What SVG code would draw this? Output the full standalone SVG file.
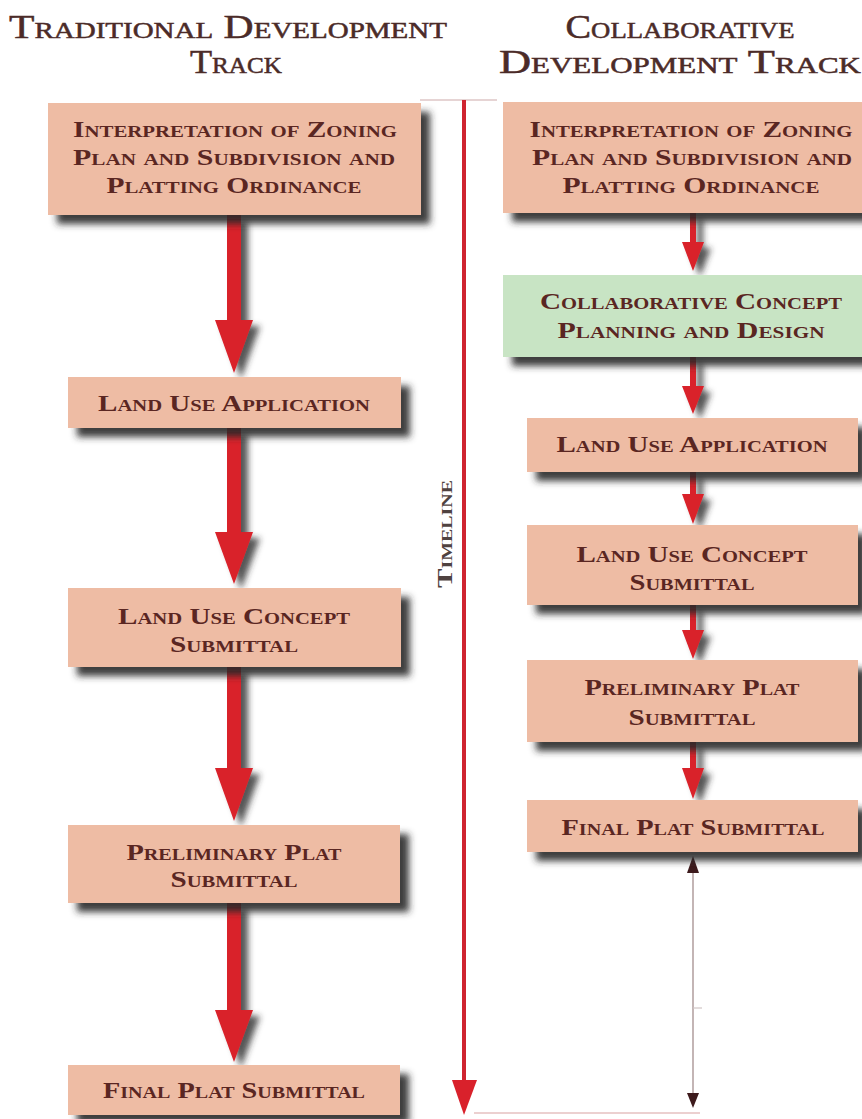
<svg xmlns="http://www.w3.org/2000/svg" width="862" height="1119" viewBox="0 0 862 1119">
<defs>
<filter id="sh" x="-20%" y="-20%" width="150%" height="160%">
<feDropShadow dx="9" dy="9" stdDeviation="3.5" flood-color="#262626" flood-opacity="0.9"/>
</filter>
<filter id="ash" x="-60%" y="-10%" width="250%" height="130%">
<feDropShadow dx="7" dy="6" stdDeviation="3" flood-color="#2b2b2b" flood-opacity="0.8"/>
</filter>
<style>
.title{font-family:"Liberation Serif",serif;font-size:33px;font-variant:small-caps;fill:#4b2b28;stroke:#4b2b28;stroke-width:0.5;text-anchor:middle}
.lbl{font-family:"Liberation Serif",serif;font-size:24px;font-weight:bold;font-variant:small-caps;fill:#5a2622;text-anchor:middle}
.box{fill:#eebca4}
.green{fill:#c8e4c4}
.arr{fill:#d9212b}
.tl{font-family:"Liberation Serif",serif;font-size:22px;font-weight:bold;font-variant:small-caps;fill:#4f4240;text-anchor:middle}
</style>
</defs>
<rect width="862" height="1119" fill="#ffffff"/>

<g id="titles">
<text class="title" x="228" y="38" textLength="438" lengthAdjust="spacingAndGlyphs">Traditional Development</text>
<text class="title" x="236" y="73" textLength="92" lengthAdjust="spacingAndGlyphs">Track</text>
<text class="title" x="680" y="38" textLength="229" lengthAdjust="spacingAndGlyphs">Collaborative</text>
<text class="title" x="680" y="73" textLength="362" lengthAdjust="spacingAndGlyphs">Development Track</text>
</g>

<g id="connectors">
<g filter="url(#ash)">
<polygon class="arr" points="227,215 241,215 241,320 253,320 234,373 215,320 227,320"/>
<polygon class="arr" points="227,428 241,428 241,532 253,532 234,584 215,532 227,532"/>
<polygon class="arr" points="227,667 241,667 241,768 253,768 234,821 215,768 227,768"/>
<polygon class="arr" points="227,903 241,903 241,1010 253,1010 234,1062 215,1010 227,1010"/>
<polygon class="arr" points="690,213 696,213 696,242 704,242 693,271 682,242 690,242"/>
<polygon class="arr" points="690,357 696,357 696,386 704,386 693,414 682,386 690,386"/>
<polygon class="arr" points="690,472 696,472 696,494 704,494 693,524 682,494 690,494"/>
<polygon class="arr" points="690,605 696,605 696,630 704,630 693,659 682,630 690,630"/>
<polygon class="arr" points="690,742 696,742 696,768 704,768 693,799 682,768 690,768"/>
</g>
<line x1="420" y1="100" x2="497" y2="100" stroke="#e6d4d4" stroke-width="2"/>
<line x1="464" y1="100" x2="464" y2="1085" stroke="#cf2430" stroke-width="4"/>
<polygon class="arr" points="452,1080 477,1080 464,1115"/>
<line x1="474" y1="1113" x2="700" y2="1113" stroke="#ecd0d0" stroke-width="2"/>
<line x1="693" y1="860" x2="693" y2="1105" stroke="#9c8484" stroke-width="1.2"/>
<line x1="693" y1="1008" x2="702" y2="1008" stroke="#d0c4c4" stroke-width="1.2"/>
<polygon points="687,873 699,873 693,856" fill="#3d1a1c"/>
<polygon points="687,1093 699,1093 693,1108" fill="#3d1a1c"/>
</g>

<g id="timeline-label">
<text class="tl" transform="translate(452,534) rotate(-90)" textLength="108" lengthAdjust="spacingAndGlyphs">Timeline</text>
</g>

<g id="t1">
<rect class="box" x="48" y="103" width="373" height="112" filter="url(#sh)"/>
<text class="lbl" x="235" y="137" textLength="324" lengthAdjust="spacingAndGlyphs">Interpretation of Zoning</text>
<text class="lbl" x="234" y="165" textLength="322" lengthAdjust="spacingAndGlyphs">Plan and Subdivision and</text>
<text class="lbl" x="234" y="193" textLength="255" lengthAdjust="spacingAndGlyphs">Platting Ordinance</text>
</g>
<g id="t2">
<rect class="box" x="68" y="377" width="333" height="51" filter="url(#sh)"/>
<text class="lbl" x="234" y="411" textLength="272" lengthAdjust="spacingAndGlyphs">Land Use Application</text>
</g>
<g id="t3">
<rect class="box" x="68" y="588" width="333" height="79" filter="url(#sh)"/>
<text class="lbl" x="234" y="624" textLength="232" lengthAdjust="spacingAndGlyphs">Land Use Concept</text>
<text class="lbl" x="234" y="652" textLength="128" lengthAdjust="spacingAndGlyphs">Submittal</text>
</g>
<g id="t4">
<rect class="box" x="68" y="825" width="332" height="78" filter="url(#sh)"/>
<text class="lbl" x="234" y="860" textLength="215" lengthAdjust="spacingAndGlyphs">Preliminary Plat</text>
<text class="lbl" x="234" y="887" textLength="127" lengthAdjust="spacingAndGlyphs">Submittal</text>
</g>
<g id="t5">
<rect class="box" x="68" y="1065" width="332" height="50" filter="url(#sh)"/>
<text class="lbl" x="234" y="1098" textLength="262" lengthAdjust="spacingAndGlyphs">Final Plat Submittal</text>
</g>

<g id="c1">
<rect class="box" x="503" y="102" width="380" height="111" filter="url(#sh)"/>
<text class="lbl" x="691" y="137" textLength="323" lengthAdjust="spacingAndGlyphs">Interpretation of Zoning</text>
<text class="lbl" x="692" y="165" textLength="320" lengthAdjust="spacingAndGlyphs">Plan and Subdivision and</text>
<text class="lbl" x="691" y="193" textLength="257" lengthAdjust="spacingAndGlyphs">Platting Ordinance</text>
</g>
<g id="c2">
<rect class="green" x="503" y="275" width="380" height="82" filter="url(#sh)"/>
<text class="lbl" x="691" y="309" textLength="302" lengthAdjust="spacingAndGlyphs">Collaborative Concept</text>
<text class="lbl" x="691" y="338" textLength="267" lengthAdjust="spacingAndGlyphs">Planning and Design</text>
</g>
<g id="c3">
<rect class="box" x="527" y="418" width="331" height="54" filter="url(#sh)"/>
<text class="lbl" x="692" y="452" textLength="271" lengthAdjust="spacingAndGlyphs">Land Use Application</text>
</g>
<g id="c4">
<rect class="box" x="527" y="525" width="331" height="80" filter="url(#sh)"/>
<text class="lbl" x="692" y="562" textLength="231" lengthAdjust="spacingAndGlyphs">Land Use Concept</text>
<text class="lbl" x="692" y="590" textLength="125" lengthAdjust="spacingAndGlyphs">Submittal</text>
</g>
<g id="c5">
<rect class="box" x="527" y="660" width="331" height="82" filter="url(#sh)"/>
<text class="lbl" x="692" y="695" textLength="215" lengthAdjust="spacingAndGlyphs">Preliminary Plat</text>
<text class="lbl" x="692" y="725" textLength="127" lengthAdjust="spacingAndGlyphs">Submittal</text>
</g>
<g id="c6">
<rect class="box" x="527" y="800" width="331" height="52" filter="url(#sh)"/>
<text class="lbl" x="693" y="835" textLength="263" lengthAdjust="spacingAndGlyphs">Final Plat Submittal</text>
</g>
</svg>
